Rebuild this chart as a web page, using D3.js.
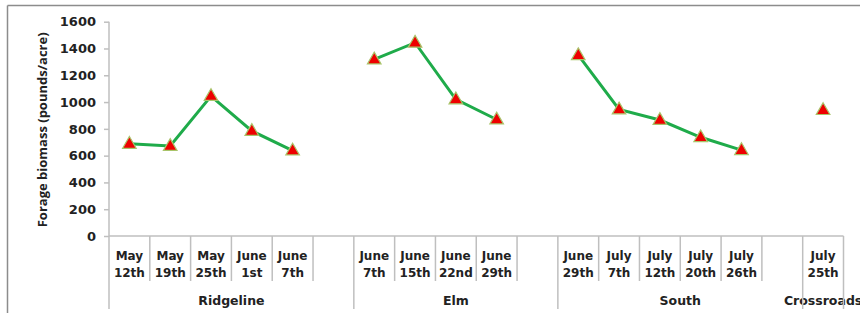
<!DOCTYPE html>
<html>
<head>
<meta charset="utf-8">
<script src="https://cdn.jsdelivr.net/npm/d3@7"></script>
<style>
  body { margin: 0; background: #fff; }
  svg text { font-family: "DejaVu Sans", sans-serif; font-weight: bold; fill: #222; }
</style>
</head>
<body>
<div id="chart"></div>
<script>
// sites along the bottom, each followed by an empty slot (except the last)
var sites = ["Ridgeline", "Elm", "South", "Crossroads"];
var siteDates = [
  ["May 12th", "May 19th", "May 25th", "June 1st", "June 7th", ""],
  ["June 7th", "June 15th", "June 22nd", "June 29th", ""],
  ["June 29th", "July 7th", "July 12th", "July 20th", "July 26th", ""],
  ["July 25th"]
];
var siteBiomass = [
  [688, 672, 1045, 784, 638, null],
  [1318, 1443, 1020, 870, null],
  [1350, 945, 866, 737, 641, null],
  [940]
];
var yTicks = [0, 200, 400, 600, 800, 1000, 1200, 1400, 1600];

var width = 860, height = 313;
var margin = {top: 21.7, left: 109, right: 16.5, bottom: 77};

var svg = d3.select("#chart").append("svg")
    .attr("width", width)
    .attr("height", height);

// outer frame (only top and left edges show)
svg.append("line").attr("x1", 7.5).attr("y1", 5.5).attr("x2", width).attr("y2", 5.5)
    .style("stroke", "#8c8c8c").style("stroke-width", 1.5);
svg.append("line").attr("x1", 7.5).attr("y1", 5.5).attr("x2", 7.5).attr("y2", height)
    .style("stroke", "#8c8c8c").style("stroke-width", 1.5);

// flatten slots
var slots = [];
sites.forEach(function(s, si) {
  siteDates[si].forEach(function(d, di) {
    slots.push({site: si, label: d, value: siteBiomass[si][di], key: si + "-" + di});
  });
});

var x = d3.scaleBand()
    .domain(slots.map(function(d) { return d.key; }))
    .range([margin.left, width - margin.right])
    .paddingInner(0).paddingOuter(0);

var y = d3.scaleLinear()
    .domain([0, 1600])
    .range([height - margin.bottom - 0, margin.top]);

var y0 = y(0);

// y axis
var yAxis = svg.append("g")
    .attr("transform", "translate(" + margin.left + ",0)")
    .call(d3.axisLeft(y).tickValues(yTicks).tickSize(5).tickPadding(8).tickFormat(d3.format("d")));
yAxis.selectAll("path, line").style("stroke", "#bfbfbf").style("stroke-width", 1.5);
yAxis.select(".domain").attr("d", "M0," + y(1600) + "V" + y0);
yAxis.selectAll("text")
    .style("font-family", "DejaVu Sans").style("font-weight", "bold")
    .style("font-size", "13px").style("fill", "#222");

svg.append("text")
    .attr("transform", "translate(47," + ((y(1600) + y0) / 2 + 1) + ")rotate(-90)")
    .attr("text-anchor", "middle")
    .style("font-family", "Open Sans")
    .style("font-size", "13px")
    .text("Forage biomass (pounds/acre)");

// category axis
var axisG = svg.append("g");
axisG.append("line")
    .attr("x1", margin.left).attr("x2", width - margin.right)
    .attr("y1", y0).attr("y2", y0)
    .style("stroke", "#bfbfbf").style("stroke-width", 1.5);

// short ticks between dates inside a site
slots.forEach(function(d, i) {
  if (i === 0) return;
  var prev = slots[i - 1];
  if (prev.site === d.site) {
    axisG.append("line")
      .attr("x1", x(d.key)).attr("x2", x(d.key))
      .attr("y1", y0).attr("y2", 281)
      .style("stroke", "#bfbfbf").style("stroke-width", 1.5);
  }
});

// long ticks at site boundaries
var bounds = [];
sites.forEach(function(s, si) {
  var keys = slots.filter(function(d) { return d.site === si; });
  var x0 = x(keys[0].key), x1 = x(keys[keys.length - 1].key) + x.bandwidth();
  bounds.push(x0);
  if (si === sites.length - 1) bounds.push(x1);
  axisG.append("text")
    .attr("x", (x0 + x1) / 2).attr("y", 305)
    .attr("text-anchor", "middle")
    .style("font-size", "12.5px")
    .text(s);
});
bounds.forEach(function(b) {
  axisG.append("line")
    .attr("x1", b).attr("x2", b)
    .attr("y1", y0).attr("y2", 309)
    .style("stroke", "#bfbfbf").style("stroke-width", 1.5);
});

// date labels on two lines
slots.forEach(function(d) {
  if (!d.label) return;
  var parts = d.label.split(" ");
  var t = axisG.append("text")
    .attr("x", x(d.key) + x.bandwidth() / 2)
    .attr("y", 260)
    .attr("text-anchor", "middle")
    .style("font-size", "12px");
  t.append("tspan").attr("x", x(d.key) + x.bandwidth() / 2).attr("dy", 0).text(parts[0]);
  t.append("tspan").attr("x", x(d.key) + x.bandwidth() / 2).attr("dy", 16.5).text(parts[1]);
});

// lines per site
var line = d3.line()
    .defined(function(d) { return d.value != null; })
    .x(function(d) { return x(d.key) + x.bandwidth() / 2; })
    .y(function(d) { return y(d.value); });

sites.forEach(function(s, si) {
  svg.append("path")
    .datum(slots.filter(function(d) { return d.site === si; }))
    .attr("d", line)
    .style("fill", "none")
    .style("stroke", "#1fab4a")
    .style("stroke-width", 3);
});

// triangle markers
var tri = d3.symbol().type(d3.symbolTriangle).size(80);
svg.selectAll(".marker")
    .data(slots.filter(function(d) { return d.value != null; }))
    .enter()
    .append("path")
    .attr("class", "marker")
    .attr("d", tri)
    .attr("transform", function(d) {
      return "translate(" + (x(d.key) + x.bandwidth() / 2) + "," + (y(d.value) + 0.5) + ")";
    })
    .style("fill", "#ee0000")
    .style("stroke", "#a9c46a")
    .style("stroke-width", 1.2);
</script>
</body>
</html>
